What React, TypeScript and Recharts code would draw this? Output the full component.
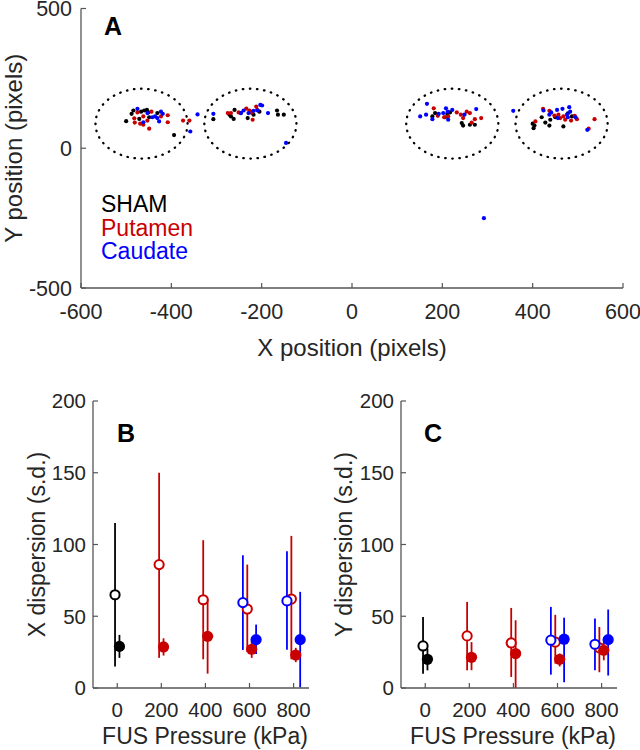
import { ScatterChart, Scatter, XAxis, YAxis, ErrorBar, Label, Legend } from "recharts";

const FONT = '"Liberation Sans", Arial, Helvetica, sans-serif';
const INK = "#262626";
const AXIS = "#555555";
const BLACK = "#000000";
const RED = "#c80000";
const BLUE = "#0000ff";

// ---------- Panel A: end positions (pixels) ----------
const groupNames = ["SHAM", "Putamen", "Caudate"];

const shamPts: [number, number][] = [
  [-500, 97], [-488, 123], [-484, 135], [-471, 105], [-467, 131], [-460, 135],
  [-454, 137], [-451, 128], [-449, 111], [-431, 126], [-394, 47],
  [-307, 104], [-271, 120], [-268, 114], [-260, 137], [-262, 105], [-246, 126],
  [-231, 108], [-223, 128], [-218, 120], [-205, 131], [-166, 135], [-164, 120], [-151, 120],
  [178, 114], [184, 126], [206, 111], [211, 123], [217, 128], [243, 90], [246, 81],
  [261, 84], [272, 84],
  [400, 88], [402, 72], [404, 81], [420, 111], [428, 92], [437, 81], [439, 102],
  [450, 111], [468, 78], [478, 125], [487, 114],
];
const putamenPts: [number, number][] = [
  [-482, 107], [-481, 92], [-475, 128], [-469, 88], [-462, 84], [-462, 114], [-453, 99],
  [-449, 70], [-444, 131], [-423, 114], [-408, 118], [-408, 93], [-374, 99], [-360, 99],
  [-275, 126], [-268, 126], [-251, 128], [-234, 142], [-227, 135], [-222, 128], [-220, 102],
  [-212, 149], [-210, 137],
  [181, 143], [190, 116], [204, 111], [213, 114], [232, 128], [241, 120], [246, 108],
  [254, 131], [261, 126], [265, 92], [272, 104], [286, 108],
  [406, 96], [423, 141], [437, 134], [448, 117], [457, 120], [461, 108], [468, 114],
  [472, 102], [485, 99], [493, 116], [498, 104], [524, 70], [537, 104],
];
const caudatePts: [number, number][] = [
  [-475, 141], [-453, 126], [-462, 93], [-442, 111], [-436, 114], [-431, 108], [-423, 131],
  [-419, 123], [-427, 96], [-342, 121], [-358, 60],
  [-307, 123], [-246, 126], [-240, 135], [-229, 126], [-218, 134], [-209, 135], [-203, 155],
  [-199, 153], [-186, 126], [-146, 19],
  [151, 114], [164, 120], [166, 159], [178, 104], [192, 123], [202, 126], [208, 143],
  [212, 131], [213, 102], [222, 137], [249, 120], [275, 140],
  [357, 134], [424, 135], [437, 120], [441, 128], [454, 137], [456, 108], [466, 141],
  [476, 120], [478, 111], [481, 147], [483, 131], [495, 111], [521, 66],
  [292, -250],
];

// dotted target regions
const regionCentersX = [-466, -225, 222, 464];
const regionCenterY = 88;
const regionRadiusX = 102;
const regionRadiusY = 125;

const posXTicks = [-600, -400, -200, 0, 200, 400, 600];
const posYTicks = [-500, 0, 500];

// ---------- Panels B and C ----------
const pressureTicks = [0, 200, 400, 600, 800];
const dispersionTicks = [0, 50, 100, 150, 200];

const shamKPa = [0];
const putamenKPa = [200, 400, 600, 800];
const caudateKPa = [600, 800];

// errors are [below, above]
// B: X dispersion
const xShamOpen = [65];
const xShamOpenErr = [[50, 50]];
const xShamFilled = [29];
const xShamFilledErr = [[8, 8]];
const xPutOpen = [86, 61.5, 55, 62];
const xPutOpenErr = [[65, 64], [41.5, 41.5], [30, 31], [42, 44]];
const xPutFilled = [28.6, 36, 27, 23];
const xPutFilledErr = [[6, 6], [26, 26], [6, 6], [5, 5]];
const xCaudOpen = [59.5, 60.7];
const xCaudOpenErr = [[33, 33], [34, 34.6]];
const xCaudFilled = [33.7, 33.7];
const xCaudFilledErr = [[10, 10.5], [33.3, 33.3]];

// C: Y dispersion
const yShamOpen = [29.3];
const yShamOpenErr = [[19.3, 20.2]];
const yShamFilled = [20];
const yShamFilledErr = [[7.7, 7.5]];
const yPutOpen = [36.3, 31.4, 32, 28];
const yPutOpenErr = [[24, 23.7], [23.7, 24.4], [15, 19], [17, 14.5]];
const yPutFilled = [21.4, 24, 20, 26.3];
const yPutFilledErr = [[9, 10.6], [24, 23.2], [5, 4], [7, 7]];
const yCaudOpen = [33.3, 30.5];
const yCaudOpenErr = [[24, 23.2], [18.2, 17.9]];
const yCaudFilled = [34, 33.7];
const yCaudFilledErr = [[30, 15], [25, 21]];

const toPoints = (pts: [number, number][]) => pts.map(([x, y]) => ({ x, y }));

const ellipseOutline = (cx: number) =>
  Array.from({ length: 73 }, (_, k) => {
    const t = (k / 72) * 2 * Math.PI;
    return { x: cx + regionRadiusX * Math.cos(t), y: regionCenterY + regionRadiusY * Math.sin(t) };
  });

const build = (kpa: number[], vals: number[], errs: number[][], shift: number) =>
  kpa.map((p, i) => ({ x: p + shift, y: vals[i], err: errs[i] }));

const axisStyle = { stroke: AXIS, strokeWidth: 1.3 };

function XTick(props: any) {
  const { x, y, payload, drop, size } = props;
  return (
    <g>
      <line x1={x} x2={x} y1={y} y2={y - 5} stroke={AXIS} strokeWidth={1.2} />
      <text x={x} y={y + drop} textAnchor="middle" fontFamily={FONT} fontSize={size} fill={INK}>
        {payload.value}
      </text>
    </g>
  );
}

function YTick(props: any) {
  const { x, y, payload, gap, size } = props;
  return (
    <g>
      <line x1={x} x2={x + 5} y1={y} y2={y} stroke={AXIS} strokeWidth={1.2} />
      <text x={x - gap} y={y + size * 0.358} textAnchor="end" fontFamily={FONT} fontSize={size} fill={INK}>
        {payload.value}
      </text>
    </g>
  );
}

const smallDot = (props: any) => <circle cx={props.cx} cy={props.cy} r={2.1} fill={props.fill} />;

// keep the legend in the order the groups are listed, not alphabetical
const renderLegend = (props: any) => {
  const items = [...(props.payload ?? [])].sort(
    (a: any, b: any) => groupNames.indexOf(a.value) - groupNames.indexOf(b.value)
  );
  return (
    <div style={{ fontFamily: FONT, fontSize: 23, lineHeight: "23.5px" }}>
      {items.map((e: any) => (
        <div key={e.value} style={{ color: e.color }}>
          {e.value}
        </div>
      ))}
    </div>
  );
};

function PanelLetter({ text, left, top }: { text: string; left: number; top: number }) {
  return (
    <div
      style={{
        position: "absolute",
        left,
        top,
        fontFamily: FONT,
        fontWeight: 700,
        fontSize: 25,
        lineHeight: 1,
        color: BLACK,
      }}
    >
      {text}
    </div>
  );
}

function PositionPanel() {
  return (
    <div style={{ position: "absolute", left: 0, top: 0 }}>
      <ScatterChart width={640} height={362} margin={{ top: 8.5, right: 17, bottom: 0, left: 0 }}>
        <XAxis
          type="number"
          dataKey="x"
          domain={[-600, 600]}
          ticks={posXTicks}
          interval={0}
          allowDataOverflow
          height={74}
          tickSize={0}
          tickMargin={0}
          tickLine={false}
          axisLine={axisStyle}
          tick={(p: any) => <XTick {...p} drop={31} size={21.5} />}
        >
          <Label value="X position (pixels)" position="insideBottom" offset={6} fontFamily={FONT} fontSize={24} fill={INK} />
        </XAxis>
        <YAxis
          type="number"
          dataKey="y"
          domain={[-500, 500]}
          ticks={posYTicks}
          interval={0}
          allowDataOverflow
          width={81}
          tickSize={0}
          tickMargin={0}
          tickLine={false}
          axisLine={axisStyle}
          tick={(p: any) => <YTick {...p} gap={9} size={21.5} />}
        >
          <Label
            value="Y position (pixels)"
            angle={-90}
            position="insideLeft"
            offset={13}
            fontFamily={FONT}
            fontSize={24}
            fill={INK}
            style={{ textAnchor: "middle" }}
          />
        </YAxis>
        {regionCentersX.map((cx) => (
          <Scatter
            key={cx}
            data={ellipseOutline(cx)}
            fill={BLACK}
            line={{ stroke: BLACK, fill: "none", strokeWidth: 2.3, strokeDasharray: "0.5 6.6", strokeLinecap: "round" }}
            lineType="joint"
            lineJointType="linear"
            shape={() => <g />}
            legendType="none"
            isAnimationActive={false}
          />
        ))}
        <Scatter name={groupNames[0]} data={toPoints(shamPts)} fill={BLACK} shape={smallDot} isAnimationActive={false} />
        <Scatter name={groupNames[1]} data={toPoints(putamenPts)} fill={RED} shape={smallDot} isAnimationActive={false} />
        <Scatter name={groupNames[2]} data={toPoints(caudatePts)} fill={BLUE} shape={smallDot} isAnimationActive={false} />
        <Legend
          layout="vertical"
          align="center"
          verticalAlign="middle"
          content={renderLegend}
          wrapperStyle={{ left: 101, top: 193, width: "auto", height: "auto" }}
        />
      </ScatterChart>
      <PanelLetter text="A" left={104} top={13.5} />
    </div>
  );
}

type Series = { key: string; data: { x: number; y: number; err: number[] }[]; color: string; open: boolean };

function DispersionPanel({
  left,
  yWidth,
  right,
  yLabel,
  letter,
  series,
}: {
  left: number;
  yWidth: number;
  right: number;
  yLabel: string;
  letter: string;
  series: Series[];
}) {
  return (
    <div style={{ position: "absolute", left, top: 380 }}>
      <ScatterChart width={320} height={370} margin={{ top: 21, right, bottom: 0, left: 0 }}>
        <XAxis
          type="number"
          dataKey="x"
          domain={[-110, 870]}
          ticks={pressureTicks}
          interval={0}
          allowDataOverflow
          height={62}
          tickSize={0}
          tickMargin={0}
          tickLine={false}
          axisLine={axisStyle}
          tick={(p: any) => <XTick {...p} drop={29} size={20.5} />}
        >
          <Label value="FUS Pressure (kPa)" position="insideBottom" offset={6} dx={4} fontFamily={FONT} fontSize={23} fill={INK} />
        </XAxis>
        <YAxis
          type="number"
          dataKey="y"
          domain={[0, 200]}
          ticks={dispersionTicks}
          interval={0}
          allowDataOverflow
          width={yWidth}
          tickSize={0}
          tickMargin={0}
          tickLine={false}
          axisLine={axisStyle}
          tick={(p: any) => <YTick {...p} gap={7} size={20.5} />}
        >
          <Label
            value={yLabel}
            angle={-90}
            position="insideLeft"
            offset={37}
            fontFamily={FONT}
            fontSize={23}
            fill={INK}
            style={{ textAnchor: "middle" }}
          />
        </YAxis>
        {series.map((s) => (
          <Scatter
            key={s.key}
            data={s.data}
            fill={s.color}
            isAnimationActive={false}
            shape={(p: any) =>
              s.open ? (
                <circle cx={p.cx} cy={p.cy} r={4.6} fill="#ffffff" stroke={s.color} strokeWidth={2} />
              ) : (
                <circle cx={p.cx} cy={p.cy} r={5.6} fill={s.color} />
              )
            }
          >
            <ErrorBar dataKey="err" direction="y" width={0} stroke={s.color} strokeWidth={1.8} isAnimationActive={false} />
          </Scatter>
        ))}
      </ScatterChart>
      <PanelLetter text={letter} left={left === 0 ? 117 : 424 - left} top={420.5 - 380} />
    </div>
  );
}

const seriesB: Series[] = [
  { key: "putOpen", data: build(putamenKPa, xPutOpen, xPutOpenErr, -10), color: RED, open: true },
  { key: "caudOpen", data: build(caudateKPa, xCaudOpen, xCaudOpenErr, -30), color: BLUE, open: true },
  { key: "shamOpen", data: build(shamKPa, xShamOpen, xShamOpenErr, -10), color: BLACK, open: true },
  { key: "putFilled", data: build(putamenKPa, xPutFilled, xPutFilledErr, 10), color: RED, open: false },
  { key: "caudFilled", data: build(caudateKPa, xCaudFilled, xCaudFilledErr, 30), color: BLUE, open: false },
  { key: "shamFilled", data: build(shamKPa, xShamFilled, xShamFilledErr, 10), color: BLACK, open: false },
];

const seriesC: Series[] = [
  { key: "putOpen", data: build(putamenKPa, yPutOpen, yPutOpenErr, -10), color: RED, open: true },
  { key: "caudOpen", data: build(caudateKPa, yCaudOpen, yCaudOpenErr, -30), color: BLUE, open: true },
  { key: "shamOpen", data: build(shamKPa, yShamOpen, yShamOpenErr, -10), color: BLACK, open: true },
  { key: "putFilled", data: build(putamenKPa, yPutFilled, yPutFilledErr, 10), color: RED, open: false },
  { key: "caudFilled", data: build(caudateKPa, yCaudFilled, yCaudFilledErr, 30), color: BLUE, open: false },
  { key: "shamFilled", data: build(shamKPa, yShamFilled, yShamFilledErr, 10), color: BLACK, open: false },
];

export default function App() {
  return (
    <div style={{ position: "absolute", left: 0, top: 0, width: 640, height: 750, background: "#ffffff" }}>
      <PositionPanel />
      <DispersionPanel left={0} yWidth={93} right={11} yLabel="X dispersion (s.d.)" letter="B" series={seriesB} />
      <DispersionPanel left={307} yWidth={94} right={10} yLabel="Y dispersion (s.d.)" letter="C" series={seriesC} />
    </div>
  );
}
